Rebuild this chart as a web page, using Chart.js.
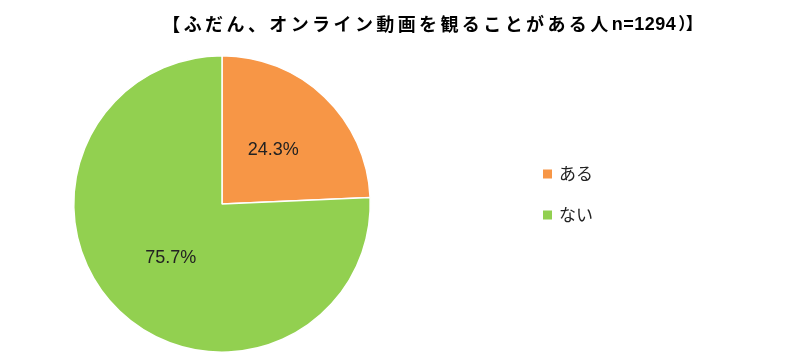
<!DOCTYPE html>
<html><head><meta charset="utf-8">
<script src="https://cdn.jsdelivr.net/npm/chart.js@4/dist/chart.umd.min.js"></script>
<style>html,body{margin:0;padding:0;background:#fff}#wrap{width:800px;height:364px;position:relative}</style>
</head><body><div id="wrap"><canvas id="c" width="800" height="364"></canvas></div>
<script>
const titleParts = ["【ふだん、オンライン動画を観ることがある人", "n=1294", "）】"];
const categories = ["ある", "ない"];
const values = [24.3, 75.7];
const colors = ["#F79646", "#92D050"];

const overlay = {
  id: 'overlay',
  afterDraw(chart) {
    const ctx = chart.ctx;
    ctx.save();
    // title
    ctx.fillStyle = '#000';
    ctx.textAlign = 'left';
    ctx.textBaseline = 'middle';
    const styles = [
      { font: 'bold 18px "Noto Sans CJK JP"', sp: '3.4px' },
      { font: 'bold 18px "Liberation Sans"', sp: '0.5px' },
      { font: 'bold 17px "Noto Sans CJK JP"', sp: '-1px' }
    ];
    let widths = titleParts.map((t, i) => { ctx.font = styles[i].font; ctx.letterSpacing = styles[i].sp; return ctx.measureText(t).width; });
    let x = 431 - widths.reduce((a, b) => a + b, 0) / 2;
    titleParts.forEach((t, i) => {
      ctx.font = styles[i].font; ctx.letterSpacing = styles[i].sp;
      ctx.fillText(t, x, i === 1 ? 25 : 24);
      x += widths[i] + (i === 1 ? 2 : 0);
    });
    ctx.letterSpacing = '0px';
    // percentage labels
    ctx.textAlign = 'center';
    const meta = chart.getDatasetMeta(0);
    ctx.font = '18px "Liberation Sans", "Noto Sans CJK JP"';
    ctx.fillStyle = '#222';
    meta.data.forEach((arc, i) => {
      const mid = (arc.startAngle + arc.endAngle) / 2;
      const r = arc.outerRadius * 0.5;
      ctx.fillText(values[i].toFixed(1) + '%', arc.x + Math.cos(mid) * r, arc.y + Math.sin(mid) * r);
    });
    // legend
    ctx.textAlign = 'left';
    ctx.font = '17px "Noto Sans CJK JP"';
    categories.forEach((c, i) => {
      const y = 174 + i * 41;
      ctx.fillStyle = colors[i];
      ctx.fillRect(543, y - 4.5, 9, 9);
      ctx.fillStyle = '#222';
      ctx.fillText(c, 559, y);
    });
    ctx.restore();
  }
};

new Chart(document.getElementById('c'), {
  type: 'pie',
  data: { labels: categories, datasets: [{ data: values, backgroundColor: colors, borderColor: '#fff', borderWidth: 1.5 }] },
  options: {
    responsive: false, animation: false,
    layout: { padding: { left: 73, right: 429, top: 55, bottom: 11 } },
    plugins: { legend: { display: false }, tooltip: { enabled: false } }
  },
  plugins: [overlay]
});
</script></body></html>
